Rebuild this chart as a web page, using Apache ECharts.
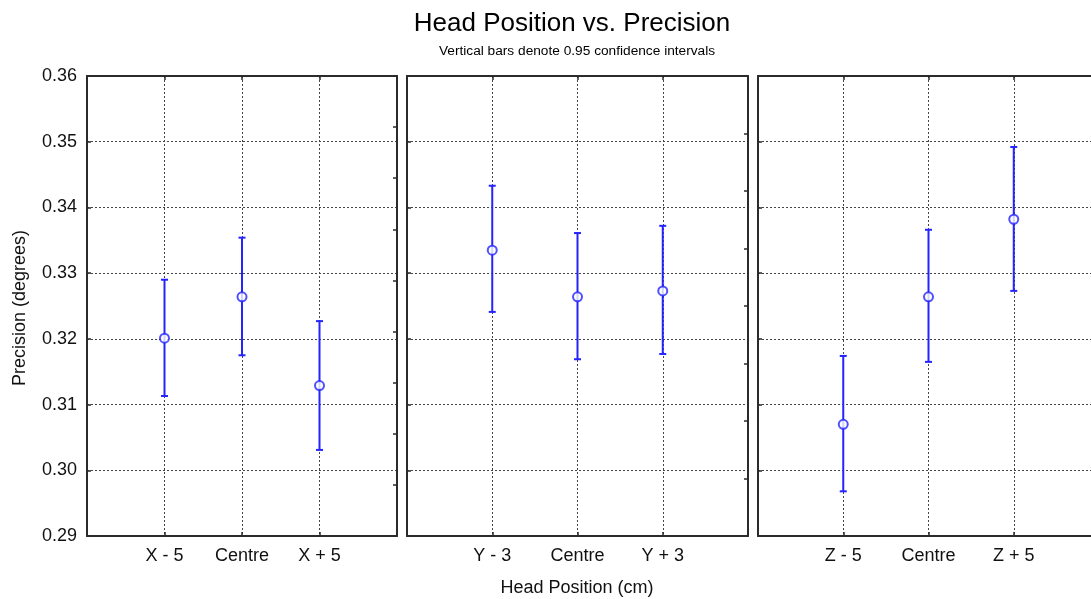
<!DOCTYPE html>
<html>
<head>
<meta charset="utf-8">
<script src="https://cdn.jsdelivr.net/npm/echarts@6/dist/echarts.min.js"></script>
<style>
html,body{margin:0;padding:0;background:#fff;}
#chart{width:1091px;height:599px;}
</style>
</head>
<body>
<div id="chart"></div>
<script>
// ---- data ----
const titleText = 'Head Position vs. Precision';
const subtitleText = 'Vertical bars denote 0.95 confidence intervals';
const xAxisName = 'Head Position (cm)';
const yAxisName = 'Precision (degrees)';

const categoriesX = ['X - 5', 'Centre', 'X + 5'];
const meansX  = [0.3201, 0.3264, 0.3129];
const lowerX  = [0.3113, 0.3175, 0.3031];
const upperX  = [0.3290, 0.3354, 0.3227];

const categoriesY = ['Y - 3', 'Centre', 'Y + 3'];
const meansY  = [0.3335, 0.3264, 0.3273];
const lowerY  = [0.3241, 0.3169, 0.3177];
const upperY  = [0.3433, 0.3361, 0.3372];

const categoriesZ = ['Z - 5', 'Centre', 'Z + 5'];
const meansZ  = [0.3070, 0.3264, 0.3382];
const lowerZ  = [0.2968, 0.3165, 0.3273];
const upperZ  = [0.3174, 0.3366, 0.3492];

const yMin = 0.29, yMax = 0.36, yStep = 0.01;
const rightTickDivisions = [9, 8, 8];

// ---- chart ----
const panels = [
  {cats: categoriesX, means: meansX, lo: lowerX, hi: upperX},
  {cats: categoriesY, means: meansY, lo: lowerY, hi: upperY},
  {cats: categoriesZ, means: meansZ, lo: lowerZ, hi: upperZ}
];
const gridPos = [
  {left: 87, top: 76, width: 310, height: 460},
  {left: 407, top: 76, width: 341, height: 460},
  {left: 758, top: 76, width: 341, height: 460}
];
const FONT = 'Liberation Sans, Arial, sans-serif';
const frame = {show: true, onZero: false, lineStyle: {color: '#2b2b2b', width: 2}};
const tickIn = {show: true, inside: true, length: 4, lineStyle: {color: '#2b2b2b', width: 1.5}};
const dotted = {show: true, showMinLine: false, showMaxLine: false, lineStyle: {type: [2, 2], color: '#444', width: 1}};
const BLUE = '#2424ff';

const grid = [], xAxis = [], yAxis = [], series = [];
panels.forEach((p, i) => {
  grid.push(Object.assign({containLabel: false, outerBoundsMode: 'none'}, gridPos[i]));
  xAxis.push({
    gridIndex: i, type: 'value', min: 0, max: 4, interval: 1, position: 'bottom',
    axisLine: frame, axisTick: tickIn,
    axisLabel: {show: true, margin: 11, fontSize: 18, color: '#111', fontFamily: FONT,
      formatter: v => p.cats[v - 1] || ''},
    splitLine: dotted
  });
  xAxis.push({
    gridIndex: i, type: 'value', min: 0, max: 4, interval: 1, position: 'top',
    axisLine: frame, axisTick: tickIn, axisLabel: {show: false}, splitLine: {show: false}
  });
  yAxis.push({
    gridIndex: i, type: 'value', min: yMin, max: yMax, interval: yStep, position: 'left',
    axisLine: frame, axisTick: tickIn,
    axisLabel: {show: i === 0, margin: 10, fontSize: 18, color: '#111', fontFamily: FONT,
      formatter: v => v.toFixed(2)},
    splitLine: dotted
  });
  yAxis.push({
    gridIndex: i, type: 'value', min: 0, max: rightTickDivisions[i], interval: 1, position: 'right',
    axisLine: frame, axisTick: tickIn, axisLabel: {show: false}, splitLine: {show: false}
  });
  const barData = p.cats.map((c, k) => [k + 1, p.lo[k], p.hi[k]]);
  const meanData = p.cats.map((c, k) => [k + 1, p.means[k]]);
  series.push({
    type: 'custom', xAxisIndex: 2 * i, yAxisIndex: 2 * i, data: barData, z: 5,
    renderItem: function (params, api) {
      const x = api.value(0);
      const a = api.coord([x, api.value(1)]);
      const b = api.coord([x, api.value(2)]);
      const w = 3.5;
      const st = {stroke: BLUE, lineWidth: 2};
      return {type: 'group', children: [
        {type: 'line', shape: {x1: a[0], y1: a[1], x2: b[0], y2: b[1]}, style: st},
        {type: 'line', shape: {x1: a[0] - w, y1: a[1], x2: a[0] + w, y2: a[1]}, style: st},
        {type: 'line', shape: {x1: b[0] - w, y1: b[1], x2: b[0] + w, y2: b[1]}, style: st}
      ]};
    }
  });
  series.push({
    type: 'scatter', xAxisIndex: 2 * i, yAxisIndex: 2 * i, data: meanData, z: 6,
    symbol: 'emptyCircle', symbolSize: 9,
    itemStyle: {color: BLUE, borderColor: BLUE, borderWidth: 1.5}
  });
});

const chart = echarts.init(document.getElementById('chart'), null, {renderer: 'canvas'});
chart.setOption({
  animation: false,
  backgroundColor: '#fff',
  grid, xAxis, yAxis, series,
  graphic: [
    {type: 'text', x: 572, y: 24, style: {text: titleText, font: '26px ' + FONT, fill: '#000', textAlign: 'center', textVerticalAlign: 'middle'}},
    {type: 'text', x: 577, y: 51, style: {text: subtitleText, font: '13.7px ' + FONT, fill: '#000', textAlign: 'center', textVerticalAlign: 'middle'}},
    {type: 'text', x: 577, y: 588, style: {text: xAxisName, font: '18px ' + FONT, fill: '#111', textAlign: 'center', textVerticalAlign: 'middle'}},
    {type: 'text', x: 20, y: 308, rotation: Math.PI / 2, style: {text: yAxisName, font: '18px ' + FONT, fill: '#111', textAlign: 'center', textVerticalAlign: 'middle'}}
  ]
});
</script>
</body>
</html>
